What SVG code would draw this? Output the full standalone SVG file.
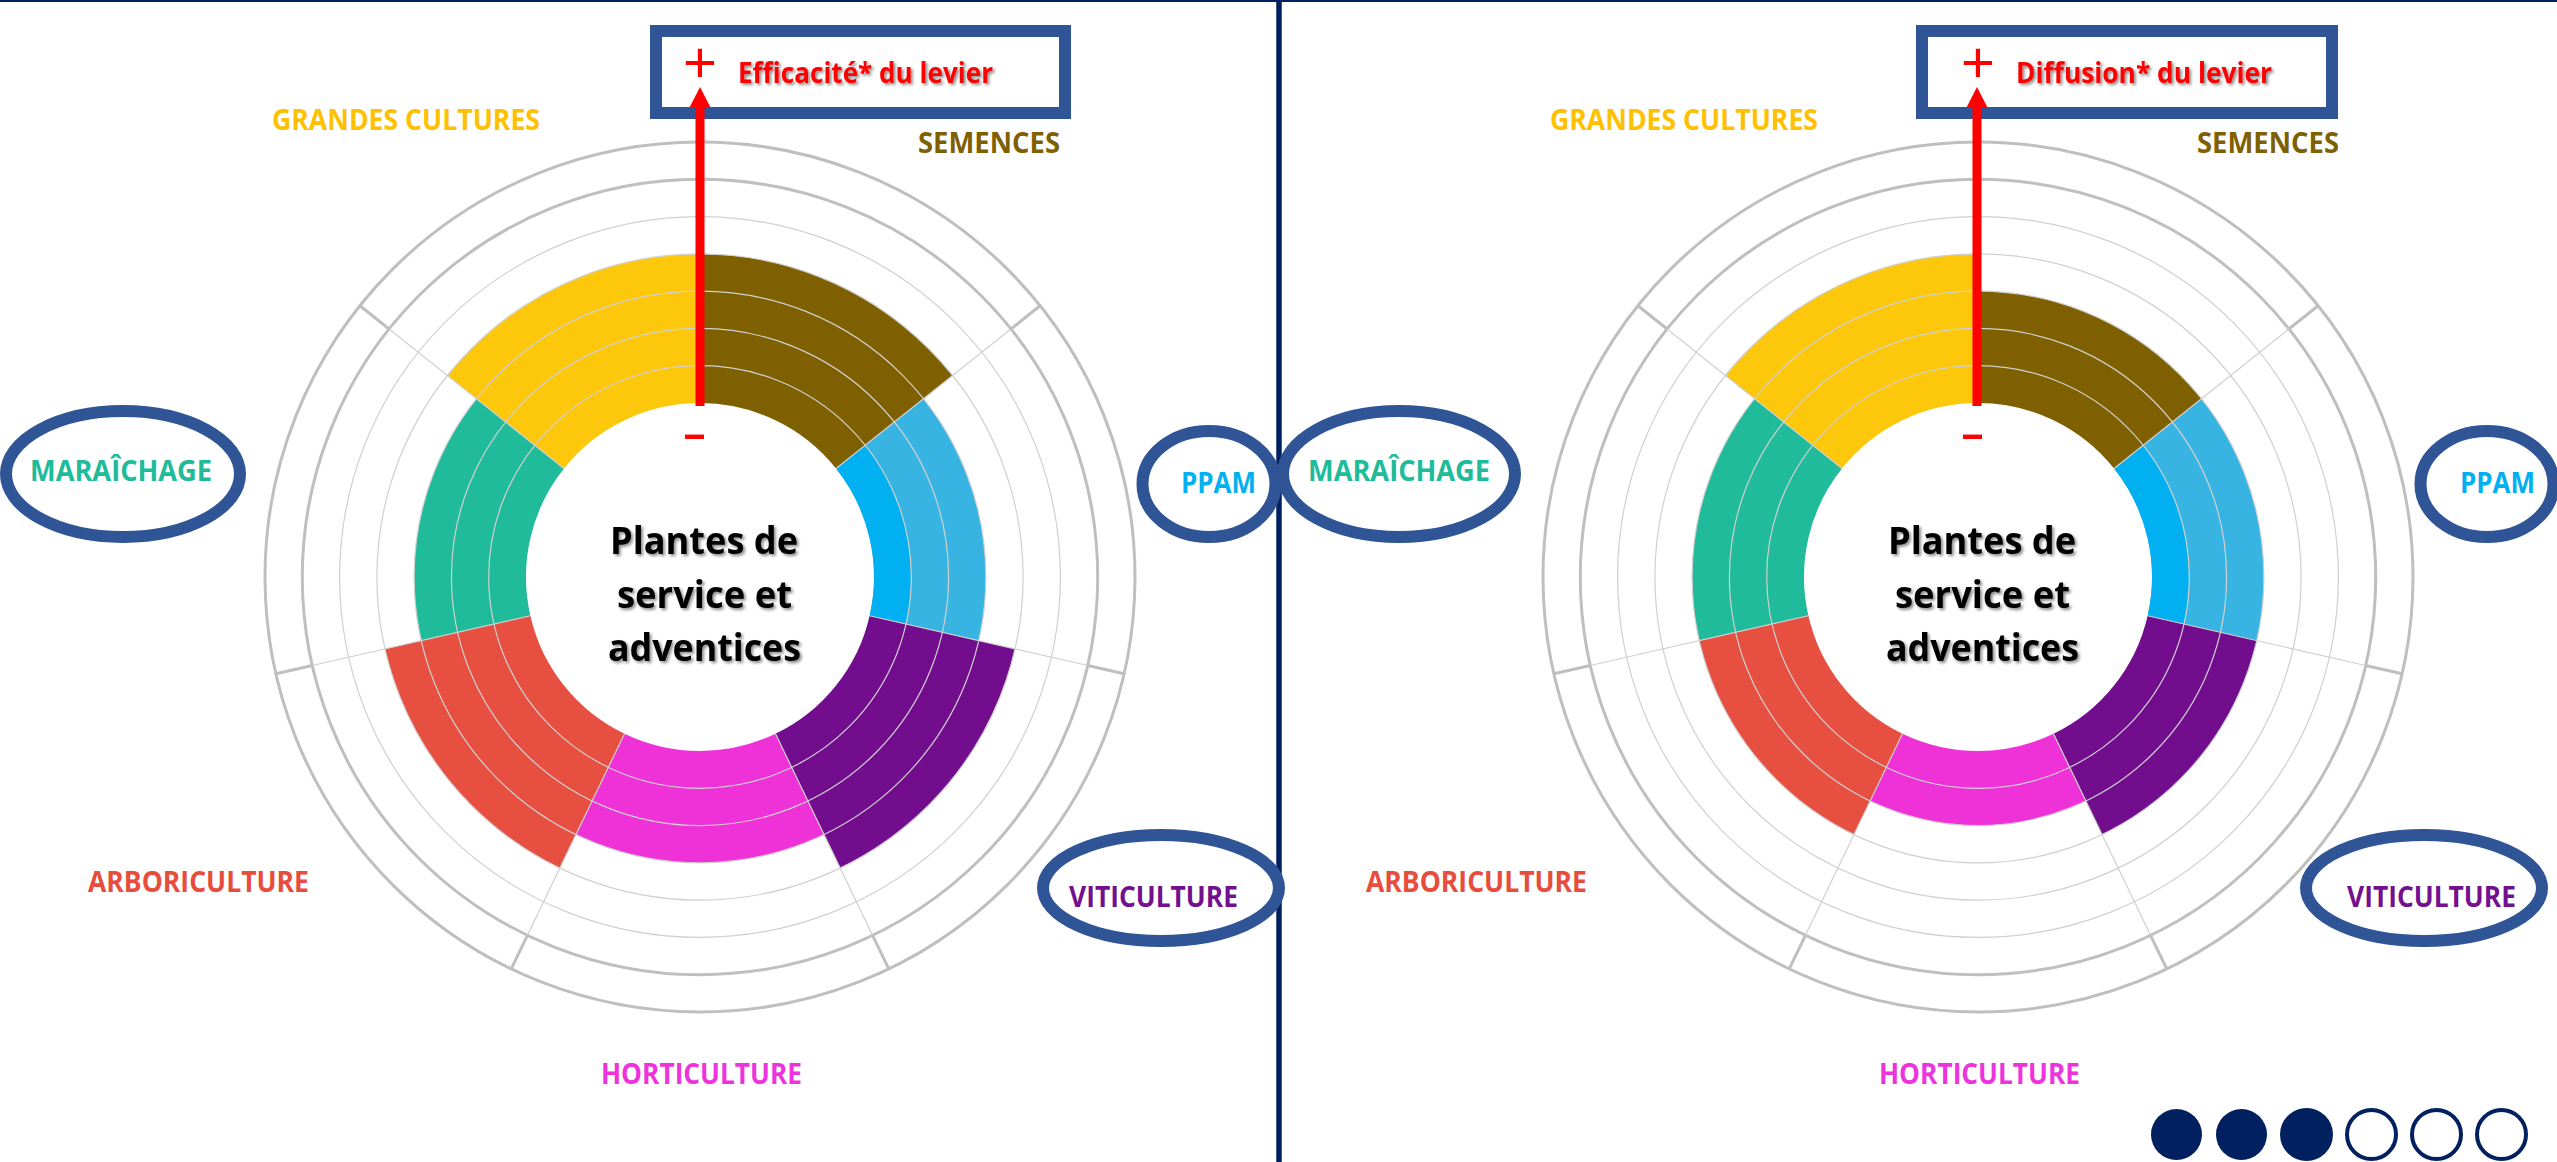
<svg xmlns="http://www.w3.org/2000/svg" width="2557" height="1162" viewBox="0 0 2557 1162">
<style>
.lbl{font-family:'Open Sans','Liberation Sans',sans-serif;font-weight:700;font-size:28px}
.ctr{font-family:'Open Sans','Liberation Sans',sans-serif;font-weight:700;font-size:37px;fill:#000;filter:url(#sh)}
.red{font-family:'Open Sans','Liberation Sans',sans-serif;font-weight:700;font-size:28px;fill:#FF0000;filter:url(#sh)}
.sym{font-family:'Liberation Sans',sans-serif;fill:#FF0000}
.thin{fill:none;stroke:#D0D0D0;stroke-width:1.2}
.thick{fill:none;stroke:#BFBFBF;stroke-width:3}
.oval{fill:none;stroke:#2F5597;stroke-width:12}
.box{fill:#FFFFFF;stroke:#2F5597;stroke-width:12}
.arrow{stroke:#FF0000;stroke-width:9;fill:none}
.head{fill:#FF0000}
.dotf{fill:#002060}
.doto{fill:#FFFFFF;stroke:#002060;stroke-width:4}
</style>
<defs>
<filter id="sh" x="-10%" y="-30%" width="130%" height="160%">
<feDropShadow dx="2" dy="2" stdDeviation="1.5" flood-color="#000" flood-opacity="0.45"/>
</filter>
<path id="s1" d="M0,-211.3 A211.3,211.3 0 0 1 165.20,-131.74 L136.04,-108.49 A174,174 0 0 0 0,-174 Z"/>
<path id="s2" d="M0,-248.6 A248.6,248.6 0 0 1 194.36,-155.00 L136.04,-108.49 A174,174 0 0 0 0,-174 Z"/>
<path id="s3" d="M0,-285.9 A285.9,285.9 0 0 1 223.52,-178.26 L136.04,-108.49 A174,174 0 0 0 0,-174 Z"/>
<path id="s4" d="M0,-323.1 A323.1,323.1 0 0 1 252.61,-201.45 L136.04,-108.49 A174,174 0 0 0 0,-174 Z"/>
<g id="grid">
<circle class="thin" r="211.3"/>
<circle class="thin" r="248.6"/>
<circle class="thin" r="285.9"/>
<circle class="thin" r="323.1"/>
<circle class="thin" r="360.4"/>
<circle class="thick" r="397.7"/>
<circle class="thick" r="435"/>
<g id="spoke">
<line class="thin" x1="0" y1="-174" x2="0" y2="-397.7"/>
<line class="thick" x1="0" y1="-397.7" x2="0" y2="-435"/>
</g>
<use href="#spoke" transform="rotate(51.428571)"/>
<use href="#spoke" transform="rotate(102.857143)"/>
<use href="#spoke" transform="rotate(154.285714)"/>
<use href="#spoke" transform="rotate(205.714286)"/>
<use href="#spoke" transform="rotate(257.142857)"/>
<use href="#spoke" transform="rotate(308.571429)"/>
</g>
</defs>

<rect x="0" y="0" width="2557" height="1162" fill="#FFFFFF"/>
<rect id="top-rule" x="0" y="0" width="2557" height="2" fill="#002060"/>
<line id="divider" x1="1279" y1="0" x2="1279" y2="1162" stroke="#002060" stroke-width="5.5"/>

<!-- LEFT CHART: Efficacité -->
<g id="chart-efficacite" transform="translate(700,577)">
<use href="#s4" fill="#7F6000"/>
<use href="#s3" fill="#38B4E3" transform="rotate(51.428571)"/>
<use href="#s1" fill="#00B0F0" transform="rotate(51.428571)"/>
<use href="#s4" fill="#720E8E" transform="rotate(102.857143)"/>
<use href="#s3" fill="#EE32D7" transform="rotate(154.285714)"/>
<use href="#s4" fill="#E74F41" transform="rotate(205.714286)"/>
<use href="#s3" fill="#20BB9A" transform="rotate(257.142857)"/>
<use href="#s4" fill="#FDC70B" transform="rotate(308.571429)"/>
<use href="#grid"/>
</g>

<!-- RIGHT CHART: Diffusion -->
<g id="chart-diffusion" transform="translate(1978,577)">
<use href="#s3" fill="#7F6000"/>
<use href="#s3" fill="#38B4E3" transform="rotate(51.428571)"/>
<use href="#s1" fill="#00B0F0" transform="rotate(51.428571)"/>
<use href="#s3" fill="#720E8E" transform="rotate(102.857143)"/>
<use href="#s2" fill="#EE32D7" transform="rotate(154.285714)"/>
<use href="#s3" fill="#E74F41" transform="rotate(205.714286)"/>
<use href="#s3" fill="#20BB9A" transform="rotate(257.142857)"/>
<use href="#s4" fill="#FDC70B" transform="rotate(308.571429)"/>
<use href="#grid"/>
</g>

<!-- center texts -->
<g id="center-left">
<text class="ctr" x="610" y="554" textLength="188" lengthAdjust="spacingAndGlyphs">Plantes de</text>
<text class="ctr" x="617" y="608" textLength="175" lengthAdjust="spacingAndGlyphs">service et</text>
<text class="ctr" x="608" y="661" textLength="193" lengthAdjust="spacingAndGlyphs">adventices</text>
</g>
<g id="center-right">
<text class="ctr" x="1888" y="554" textLength="188" lengthAdjust="spacingAndGlyphs">Plantes de</text>
<text class="ctr" x="1895" y="608" textLength="175" lengthAdjust="spacingAndGlyphs">service et</text>
<text class="ctr" x="1886" y="661" textLength="193" lengthAdjust="spacingAndGlyphs">adventices</text>
</g>

<!-- title boxes -->
<g id="box-efficacite">
<rect class="box" x="656" y="31" width="409" height="82"/>
<text class="sym" x="700" y="82" font-size="58" text-anchor="middle">+</text>
<text class="red" x="738" y="83" textLength="255" lengthAdjust="spacingAndGlyphs">Efficacité* du levier</text>
</g>
<g id="box-diffusion">
<rect class="box" x="1922" y="31" width="410" height="82"/>
<text class="sym" x="1978" y="82" font-size="58" text-anchor="middle">+</text>
<text class="red" x="2016" y="83" textLength="256" lengthAdjust="spacingAndGlyphs">Diffusion* du levier</text>
</g>

<!-- minus signs -->
<g id="minus-left"><text class="sym" x="682" y="446" font-size="37" font-weight="700" textLength="25" lengthAdjust="spacingAndGlyphs">-</text></g>
<g id="minus-right"><text class="sym" x="1960" y="446" font-size="37" font-weight="700" textLength="25" lengthAdjust="spacingAndGlyphs">-</text></g>

<!-- connectors (axis arrows) -->
<g id="connectors">
<line class="arrow" x1="700" y1="406" x2="700" y2="104"/>
<polygon class="head" points="700,87 689.5,107.5 710.5,107.5"/>
<line class="arrow" x1="1977" y1="406" x2="1977" y2="104"/>
<polygon class="head" points="1977,87 1966.5,107.5 1987.5,107.5"/>
</g>

<!-- left labels -->
<g id="labels-left">
<text class="lbl" x="272" y="130" fill="#FFC000" textLength="268" lengthAdjust="spacingAndGlyphs">GRANDES CULTURES</text>
<text class="lbl" x="918" y="153" fill="#7F6000" textLength="142" lengthAdjust="spacingAndGlyphs">SEMENCES</text>
<text class="lbl" x="30" y="481" fill="#20BB9A" textLength="182" lengthAdjust="spacingAndGlyphs">MARAÎCHAGE</text>
<text class="lbl" x="1181" y="493" fill="#00B0F0" textLength="75" lengthAdjust="spacingAndGlyphs">PPAM</text>
<text class="lbl" x="1069" y="907" fill="#72108E" textLength="169" lengthAdjust="spacingAndGlyphs">VITICULTURE</text>
<text class="lbl" x="601" y="1084" fill="#EE33DD" textLength="201" lengthAdjust="spacingAndGlyphs">HORTICULTURE</text>
<text class="lbl" x="88" y="892" fill="#E74C3C" textLength="221" lengthAdjust="spacingAndGlyphs">ARBORICULTURE</text>
</g>
<g id="labels-right">
<text class="lbl" x="1550" y="130" fill="#FFC000" textLength="268" lengthAdjust="spacingAndGlyphs">GRANDES CULTURES</text>
<text class="lbl" x="2197" y="153" fill="#7F6000" textLength="142" lengthAdjust="spacingAndGlyphs">SEMENCES</text>
<text class="lbl" x="1308" y="481" fill="#20BB9A" textLength="182" lengthAdjust="spacingAndGlyphs">MARAÎCHAGE</text>
<text class="lbl" x="2460" y="493" fill="#00B0F0" textLength="75" lengthAdjust="spacingAndGlyphs">PPAM</text>
<text class="lbl" x="2347" y="907" fill="#72108E" textLength="169" lengthAdjust="spacingAndGlyphs">VITICULTURE</text>
<text class="lbl" x="1879" y="1084" fill="#EE33DD" textLength="201" lengthAdjust="spacingAndGlyphs">HORTICULTURE</text>
<text class="lbl" x="1366" y="892" fill="#E74C3C" textLength="221" lengthAdjust="spacingAndGlyphs">ARBORICULTURE</text>
</g>

<!-- highlight ellipses -->
<g id="ovals">
<ellipse id="oval-maraichage-left" class="oval" cx="123" cy="474" rx="117" ry="63"/>
<ellipse id="oval-ppam-left" class="oval" cx="1209" cy="484" rx="66.5" ry="53"/>
<ellipse id="oval-viticulture-left" class="oval" cx="1161" cy="888" rx="118" ry="53"/>
<ellipse id="oval-maraichage-right" class="oval" cx="1399" cy="474" rx="116" ry="63"/>
<ellipse id="oval-ppam-right" class="oval" cx="2487" cy="484" rx="66.5" ry="53"/>
<ellipse id="oval-viticulture-right" class="oval" cx="2424" cy="888" rx="118" ry="53"/>
</g>

<!-- progress dots -->
<g id="progress">
<circle class="dotf" cx="2176.5" cy="1134.5" r="25.5"/>
<circle class="dotf" cx="2241.5" cy="1134.5" r="25.5"/>
<circle class="dotf" cx="2306.5" cy="1134.5" r="26.5"/>
<circle class="doto" cx="2371.5" cy="1134.5" r="24.5"/>
<circle class="doto" cx="2436.5" cy="1134.5" r="24.5"/>
<circle class="doto" cx="2501.5" cy="1134.5" r="24.5"/>
</g>
</svg>
